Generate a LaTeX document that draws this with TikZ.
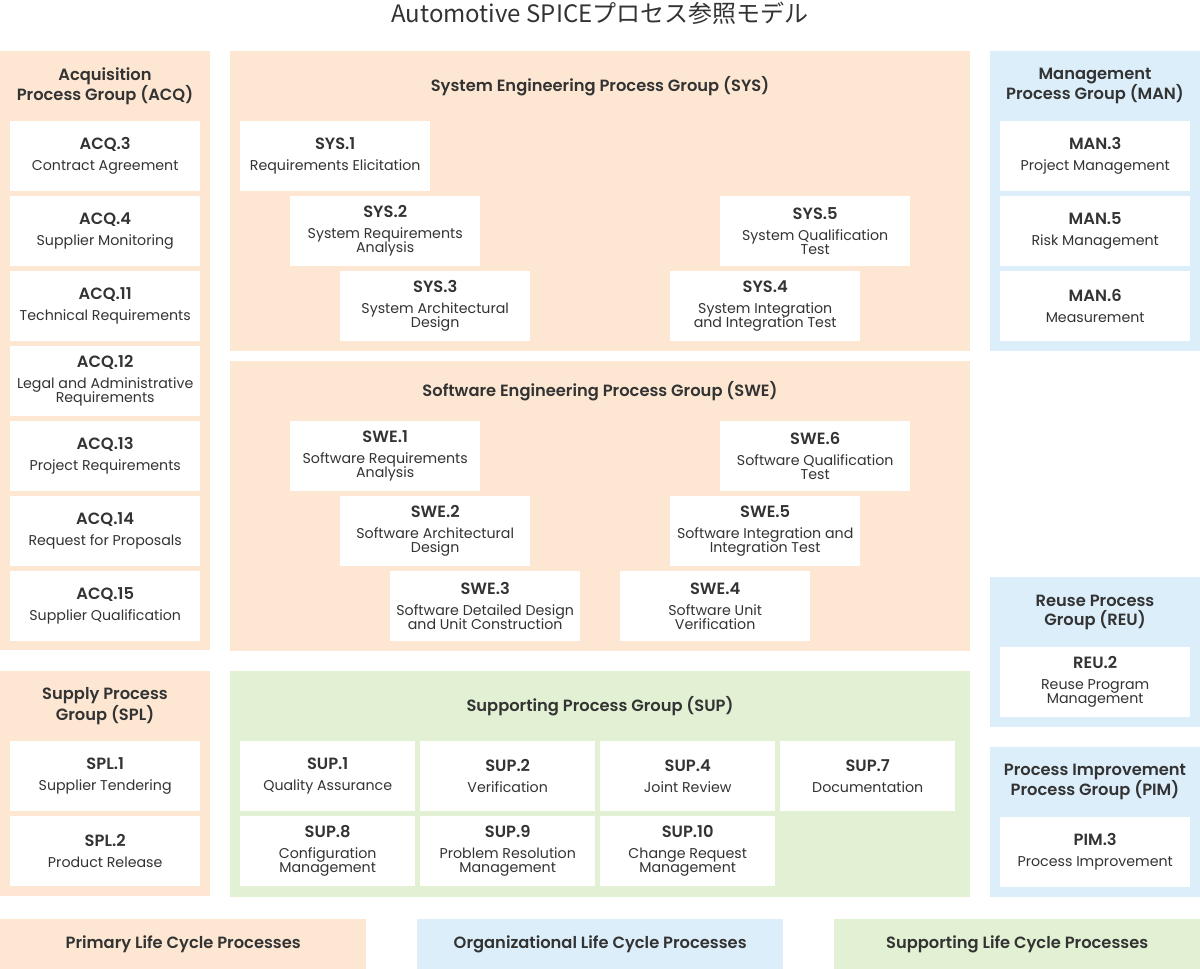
\documentclass[tikz,border=0pt]{standalone}
\usepackage{fontspec}
\setmainfont{Poppins}[BoldFont={Poppins SemiBold}]
\newfontfamily\cjk{Noto Sans CJK JP}
\usetikzlibrary{positioning}
\definecolor{peach}{HTML}{FDE7D3}
\definecolor{sky}{HTML}{DCEEFA}
\definecolor{leaf}{HTML}{E2F0D4}
\definecolor{ink}{HTML}{333333}
\newcommand{\pcode}[1]{{\fontsize{16.3}{16}\selectfont\bfseries #1}}
\newcommand{\procfont}{\fontsize{14.2}{14}\selectfont\lineskiplimit=-20pt\relax}
\tikzset{
  every picture/.style={x=1pt,y=-1pt},
  grp/.style={anchor=north west, inner sep=0pt, outer sep=0pt},
  grptitle/.style={align=center, text=ink, inner sep=0pt,
    font=\fontsize{16.3}{19}\selectfont\bfseries},
  proc/.style={fill=white, anchor=north west, minimum width=190pt,
    minimum height=70pt, inner sep=0pt, align=center, text=ink,
    font=\procfont},
  supproc/.style={proc, minimum width=175pt},
  legendbox/.style={anchor=north west, minimum width=366pt, minimum height=50pt,
    inner sep=0pt, text=ink, font=\fontsize{16.3}{19}\selectfont\bfseries},
}
\begin{document}
\begin{tikzpicture}
\useasboundingbox[fill=white] (0,0) rectangle (1200,969);
\node[text=ink, font=\cjk\fontsize{24}{26}\selectfont] (title) at (600,13) {Automotive SPICEプロセス参照モデル};

% group backgrounds
\node[grp, fill=peach, minimum width=210pt, minimum height=599pt] (acq) at (0,51) {};
\node[grp, fill=peach, minimum width=210pt, minimum height=225pt] (spl) at (0,671) {};
\node[grp, fill=peach, minimum width=740pt, minimum height=300pt] (sys) at (230,51) {};
\node[grp, fill=peach, minimum width=740pt, minimum height=290pt] (swe) at (230,361) {};
\node[grp, fill=leaf, minimum width=740pt, minimum height=226pt] (sup) at (230,671) {};
\node[grp, fill=sky, minimum width=210pt, minimum height=300pt] (man) at (990,51) {};
\node[grp, fill=sky, minimum width=210pt, minimum height=150pt] (reu) at (990,577) {};
\node[grp, fill=sky, minimum width=210pt, minimum height=150pt] (pim) at (990,747) {};

% group titles
\node[grptitle] (acqtitle) at (105,86) {Acquisition\\Process Group (ACQ)};
\node[grptitle] (spltitle) at (105,706) {Supply Process\\Group (SPL)};
\node[grptitle] (systitle) at (600,86) {System Engineering Process Group (SYS)};
\node[grptitle] (swetitle) at (600,391) {Software Engineering Process Group (SWE)};
\node[grptitle] (suptitle) at (600,706) {Supporting Process Group (SUP)};
\node[grptitle] (mantitle) at (1095,86) {Management\\Process Group (MAN)};
\node[grptitle] (reutitle) at (1095,612) {Reuse Process\\Group (REU)};
\node[grptitle] (pimtitle) at (1095,782) {Process Improvement\\Process Group (PIM)};

% acquisition
\node[proc] (acq3) at (10,121) {\pcode{ACQ.3}\\[7pt]Contract Agreement};
\node[proc] (acq4) at (10,196) {\pcode{ACQ.4}\\[7pt]Supplier Monitoring};
\node[proc] (acq11) at (10,271) {\pcode{ACQ.11}\\[7pt]Technical Requirements};
\node[proc] (acq12) at (10,346) {\pcode{ACQ.12}\\[7pt]Legal and Administrative\\Requirements};
\node[proc] (acq13) at (10,421) {\pcode{ACQ.13}\\[7pt]Project Requirements};
\node[proc] (acq14) at (10,496) {\pcode{ACQ.14}\\[7pt]Request for Proposals};
\node[proc] (acq15) at (10,571) {\pcode{ACQ.15}\\[7pt]Supplier Qualification};

% supply
\node[proc] (spl1) at (10,741) {\pcode{SPL.1}\\[7pt]Supplier Tendering};
\node[proc] (spl2) at (10,816) {\pcode{SPL.2}\\[7pt]Product Release};

% system engineering
\node[proc] (sys1) at (240,121) {\pcode{SYS.1}\\[7pt]Requirements Elicitation};
\node[proc] (sys2) at (290,196) {\pcode{SYS.2}\\[7pt]System Requirements\\Analysis};
\node[proc] (sys3) at (340,271) {\pcode{SYS.3}\\[7pt]System Architectural\\Design};
\node[proc] (sys4) at (670,271) {\pcode{SYS.4}\\[7pt]System Integration\\and Integration Test};
\node[proc] (sys5) at (720,196) {\pcode{SYS.5}\\[7pt]System Qualification\\Test};

% software engineering
\node[proc] (swe1) at (290,421) {\pcode{SWE.1}\\[7pt]Software Requirements\\Analysis};
\node[proc] (swe2) at (340,496) {\pcode{SWE.2}\\[7pt]Software Architectural\\Design};
\node[proc] (swe3) at (390,571) {\pcode{SWE.3}\\[7pt]Software Detailed Design\\and Unit Construction};
\node[proc] (swe4) at (620,571) {\pcode{SWE.4}\\[7pt]Software Unit\\Verification};
\node[proc] (swe5) at (670,496) {\pcode{SWE.5}\\[7pt]Software Integration and\\Integration Test};
\node[proc] (swe6) at (720,421) {\pcode{SWE.6}\\[7pt]Software Qualification\\Test};

% supporting
\node[supproc] (sup1) at (240,741) {\pcode{SUP.1}\\[7pt]Quality Assurance};
\node[supproc] (sup2) at (420,741) {\pcode{SUP.2}\\[7pt]Verification};
\node[supproc] (sup4) at (600,741) {\pcode{SUP.4}\\[7pt]Joint Review};
\node[supproc] (sup7) at (780,741) {\pcode{SUP.7}\\[7pt]Documentation};
\node[supproc] (sup8) at (240,816) {\pcode{SUP.8}\\[7pt]Configuration\\Management};
\node[supproc] (sup9) at (420,816) {\pcode{SUP.9}\\[7pt]Problem Resolution\\Management};
\node[supproc] (sup10) at (600,816) {\pcode{SUP.10}\\[7pt]Change Request\\Management};

% management, reuse, improvement
\node[proc] (man3) at (1000,121) {\pcode{MAN.3}\\[7pt]Project Management};
\node[proc] (man5) at (1000,196) {\pcode{MAN.5}\\[7pt]Risk Management};
\node[proc] (man6) at (1000,271) {\pcode{MAN.6}\\[7pt]Measurement};
\node[proc] (reu2) at (1000,647) {\pcode{REU.2}\\[7pt]Reuse Program\\Management};
\node[proc] (pim3) at (1000,817) {\pcode{PIM.3}\\[7pt]Process Improvement};

% legend
\node[legendbox, fill=peach] (primary) at (0,919) {Primary Life Cycle Processes};
\node[legendbox, fill=sky] (organizational) at (417,919) {Organizational Life Cycle Processes};
\node[legendbox, fill=leaf] (supporting) at (834,919) {Supporting Life Cycle Processes};
\end{tikzpicture}
\end{document}
